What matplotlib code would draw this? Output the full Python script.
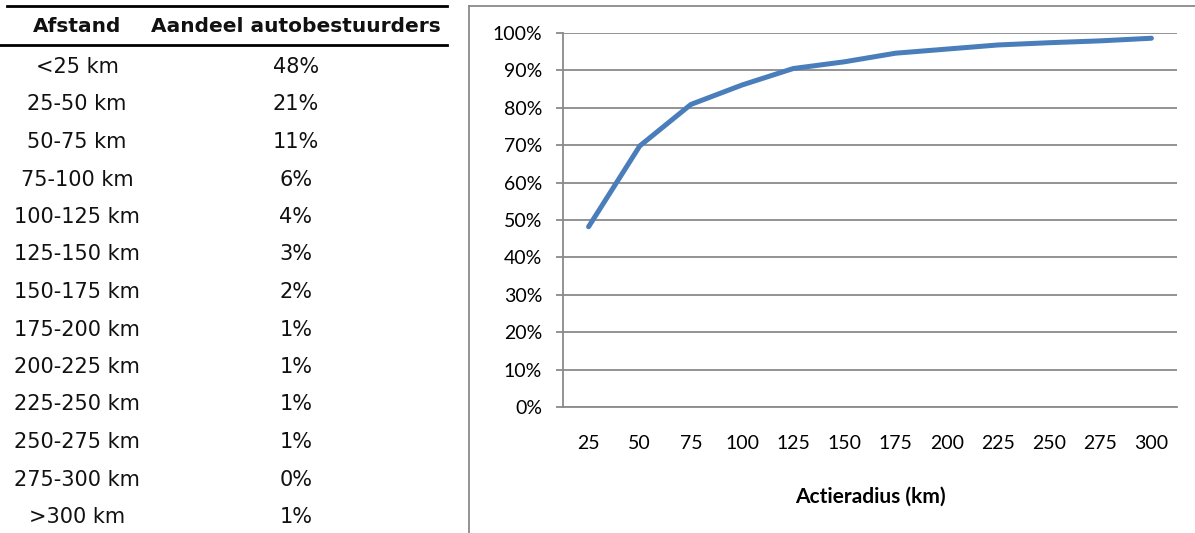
import matplotlib.pyplot as plt
from matplotlib.lines import Line2D
from matplotlib.ticker import PercentFormatter

# Tabel: afstandsklassen en aandeel autobestuurders
afstanden = ['<25 km', '25-50 km', '50-75 km', '75-100 km', '100-125 km',
             '125-150 km', '150-175 km', '175-200 km', '200-225 km',
             '225-250 km', '250-275 km', '275-300 km', '>300 km']
aandelen = ['48%', '21%', '11%', '6%', '4%', '3%', '2%', '1%', '1%',
            '1%', '1%', '0%', '1%']
kop = ['Afstand', 'Aandeel autobestuurders']

# Grafiek: cumulatief aandeel per actieradius
radius = [25, 50, 75, 100, 125, 150, 175, 200, 225, 250, 275, 300]
cumulatief = [0.482, 0.698, 0.809, 0.861, 0.905, 0.923, 0.946, 0.957,
              0.968, 0.974, 0.979, 0.986]

W, H = 1195, 533
fig = plt.figure(figsize=(W / 100, H / 100), dpi=100)

GRIJS = '#8a8a8a'
BLAUW = '#4a7ebb'

# --- tabel links, in pixelcoordinaten ---
tab = fig.add_axes([0, 0, 460 / W, 1])
tab.set_xlim(0, 460)
tab.set_ylim(H, 0)
tab.axis('off')

col_x = [77, 296]
tab.plot([7, 447], [6, 6], color='black', lw=2, clip_on=False)
tab.plot([0, 447], [45, 45], color='black', lw=2, clip_on=False)
for x, t in zip(col_x, kop):
    tab.text(x, 27, t, ha='center', va='center', fontsize=14.5,
             fontweight='bold', family='DejaVu Sans', color='#111111')

for i, (a, p) in enumerate(zip(afstanden, aandelen)):
    y = 67 + i * 37.5
    tab.text(col_x[0], y, a, ha='center', va='center', fontsize=15,
             family='DejaVu Sans', color='#111111')
    tab.text(col_x[1], y, p, ha='center', va='center', fontsize=15,
             family='DejaVu Sans', color='#111111')

# --- kader rond de grafiek ---
fig.add_artist(Line2D([469 / W, 469 / W], [1 - 6 / H, 0],
                      transform=fig.transFigure, color=GRIJS, lw=1.3))
fig.add_artist(Line2D([469 / W, 1], [1 - 6 / H, 1 - 6 / H],
                      transform=fig.transFigure, color=GRIJS, lw=1.3))

# --- lijngrafiek ---
ax = fig.add_axes([563 / W, 1 - 407 / H, (1177 - 563) / W, (407 - 33) / H])
pos = list(range(len(radius)))
ax.plot(pos, cumulatief, color=BLAUW, lw=3.6,
        solid_capstyle='round', solid_joinstyle='round')

ax.set_xlim(-0.5, len(radius) - 0.5)
ax.set_ylim(0, 1)
ax.set_yticks([i / 10 for i in range(11)])
ax.yaxis.set_major_formatter(PercentFormatter(1, decimals=0))
ax.set_xticks(pos)
ax.set_xticklabels([str(r) for r in radius])

for s in ['top', 'right']:
    ax.spines[s].set_visible(False)
for s in ['left', 'bottom']:
    ax.spines[s].set_color(GRIJS)
    ax.spines[s].set_linewidth(1.3)

ax.yaxis.grid(True, color=GRIJS, lw=1.3)
ax.set_axisbelow(True)
ax.tick_params(axis='y', length=5, width=1.3, color=GRIJS, pad=10,
               labelsize=14, labelfontfamily='Lato')
ax.tick_params(axis='x', length=0, pad=20, labelsize=14,
               labelfontfamily='Lato')

ax.set_xlabel('Actieradius (km)', fontsize=15, fontweight='bold',
              family='Lato')
ax.xaxis.set_label_coords(0.5, -(497 - 407) / 374)
ax.xaxis.label.set_va('center')

fig.savefig('out.png', dpi=100)
